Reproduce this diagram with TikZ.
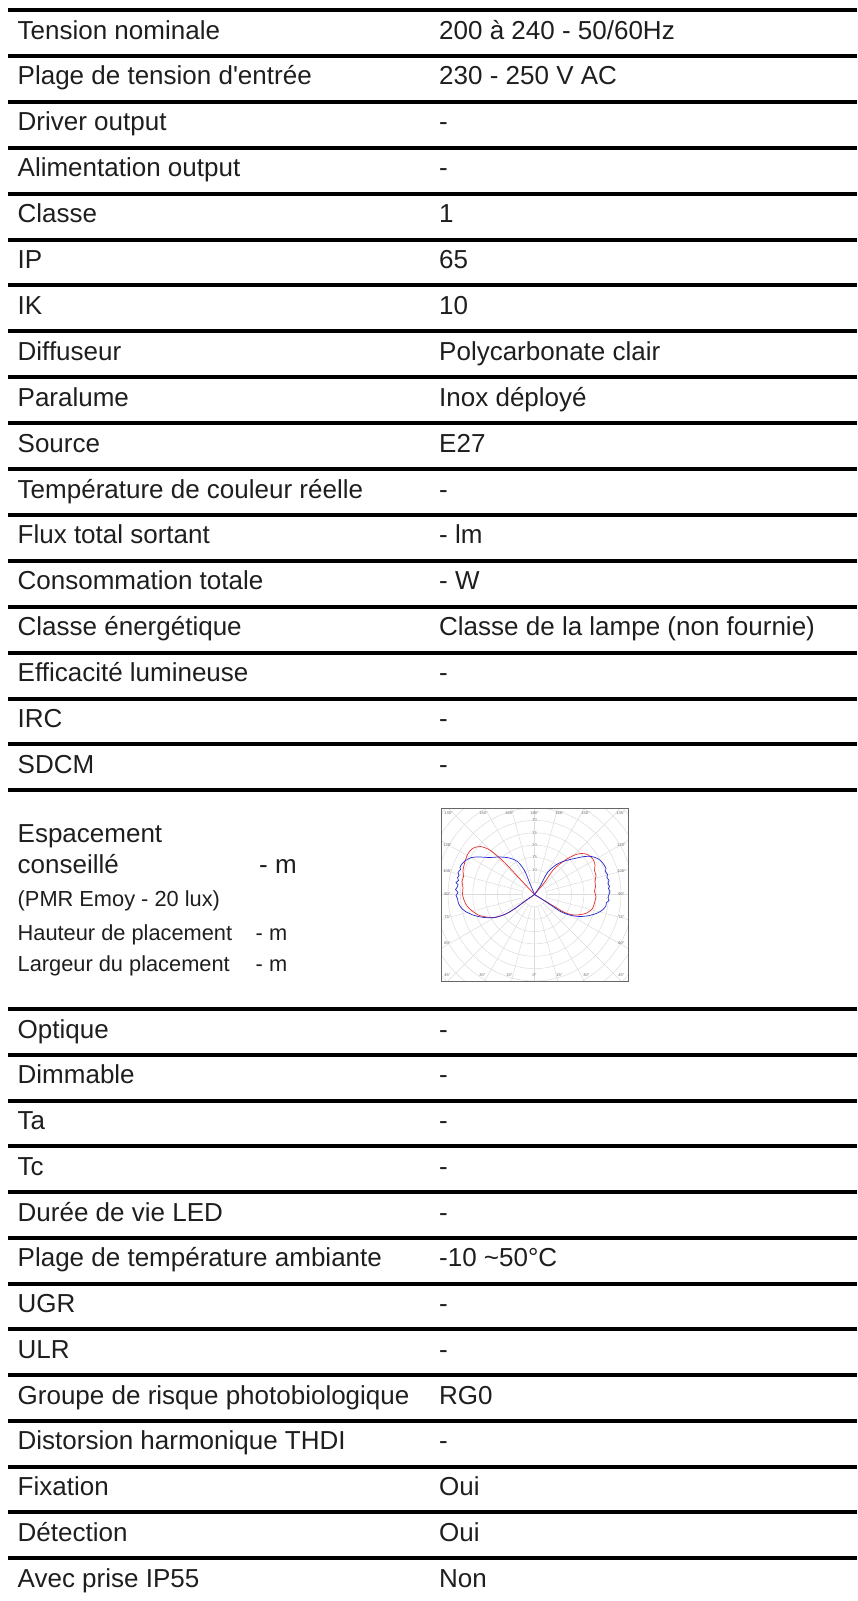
\documentclass[tikz,border=0pt]{standalone}
\usepackage{fontspec}
\setmainfont{Liberation Sans}
\definecolor{gridgray}{HTML}{DCDCDC}
\definecolor{curvered}{HTML}{E3302A}
\definecolor{curveblue}{HTML}{2828D2}
\definecolor{inkgray}{HTML}{1E1E1E}
\newcommand{\bigtxt}{\fontsize{26}{30}\selectfont}
\newcommand{\smalltxt}{\fontsize{21.8}{25}\selectfont}

\begin{document}
\begin{tikzpicture}[x=1pt, y=-1pt,
    rowlabel/.style={anchor=base west, inner sep=0pt, font=\bigtxt, text=inkgray},
    rowvalue/.style={anchor=base west, inner sep=0pt, font=\bigtxt, text=inkgray},
    sepline/.style={line width=4pt},
    tinylabel/.style={inner sep=0.3pt, font=\fontsize{4}{4.5}\selectfont, text=black!60}]
    \useasboundingbox (0,0) rectangle (857,1601);

    % Upper rows
    \foreach \lab/\val [count=\i from 0] in {
        {Tension nominale}/{200 à 240 - 50/60Hz},
        {Plage de tension d\textquotesingle entrée}/{230 - 250 V AC},
        {Driver output}/{-},
        {Alimentation output}/{-},
        {Classe}/{1},
        {IP}/{65},
        {IK}/{10},
        {Diffuseur}/{Polycarbonate clair},
        {Paralume}/{Inox déployé},
        {Source}/{E27},
        {Température de couleur réelle}/{-},
        {Flux total sortant}/{- lm},
        {Consommation totale}/{- W},
        {Classe énergétique}/{Classe de la lampe (non fournie)},
        {Efficacité lumineuse}/{-},
        {IRC}/{-},
        {SDCM}/{-}} {
        \pgfmathsetmacro{\yy}{10+45.9*\i}
        \draw[sepline] (8,\yy) -- (857,\yy);
        \node[rowlabel] (tl\i) at (17.5,\yy+29) {\lab};
        \node[rowvalue] (tv\i) at (439,\yy+29) {\val};
    }
    \draw[sepline] (8,790.3) -- (857,790.3);

    % Spacing row
    \node[rowlabel] (esp) at (17.5,842) {Espacement};
    \node[rowlabel] (cons) at (17.5,873) {conseillé};
    \node[rowvalue] (consv) at (259,873) {- m};
    \node[rowlabel, font=\smalltxt] (pmr) at (17.5,906.5) {(PMR Emoy - 20 lux)};
    \node[rowlabel, font=\smalltxt] (haut) at (17.5,940.5) {Hauteur de placement};
    \node[rowvalue, font=\smalltxt] (hautv) at (255.5,940.5) {- m};
    \node[rowlabel, font=\smalltxt] (larg) at (17.5,971) {Largeur du placement};
    \node[rowvalue, font=\smalltxt] (largv) at (255.5,971) {- m};

    % Polar diagram
    \begin{scope}[shift={(534.5,894.5)}, yscale=-1]
        \begin{scope}
            \clip (-93.5,-86.5) rectangle (93.5,86.5);
            \foreach \k in {1,...,10}
                \draw[gridgray, line width=0.5pt] (0,0) circle [radius=12.35*\k];
            \foreach \a in {0,15,...,345}
                \draw[gridgray, line width=0.5pt] (\a:12.35) -- (\a:140);
        \end{scope}
        \draw[black!60, line width=0.8pt] (-93.5,-86.5) rectangle (93.5,86.5);

        % angle labels
        \foreach \xx/\t [count=\n] in {-86/135,-51/150,-25/165,0/180,25/165,51/150,86/135} {
            \node[tinylabel] (pt\n) at (\xx,81.5) {\t°};
        }
        \foreach \yy/\t [count=\n] in {49/120,23/105,0/90,-23/75,-49/60} {
            \node[tinylabel] (pl\n) at (-87,\yy) {\t°};
            \node[tinylabel] (pr\n) at (87,\yy) {\t°};
        }
        \foreach \xx/\t [count=\n] in {-87/45,-52/30,-25/15,0/0,25/15,52/30,87/45} {
            \node[tinylabel] (pb\n) at (\xx,-80.5) {\t°};
        }
        \foreach \v [count=\n] in {10,15,20,25,30} {
            \node[tinylabel, fill=white] (pv\n) at (0,{12.35*\v/5}) {\v};
        }

        % red curve
        \draw[curvered, line width=0.7pt] plot[smooth] coordinates {
            (0,0) (-7,7.5) (-14,15) (-31,33) (-44,44) (-54,48) (-62,46) (-67,40)
            (-70,31) (-71.5,24) (-71,18) (-72.5,13) (-71.5,7) (-72,1) (-71,-4) (-68.5,-10)
            (-64,-15) (-55,-21) (-41,-23) (-30,-20) (-21,-15) (-10,-7) (0,0)};
        \draw[curvered, line width=0.7pt] plot[smooth] coordinates {
            (0,0) (10,12) (19,25) (30,34) (40,39.5) (47,41) (53,40) (58,36)
            (60.5,30) (60,24) (61.5,19) (60.5,13) (61,8) (60,3) (61.5,-2) (60,-8)
            (58,-14) (51,-19) (40,-20.5) (30,-18) (18,-11) (8,-5) (0,0)};

        % blue curve
        \draw[curveblue, line width=0.7pt] plot[smooth] coordinates {
            (0,0) (-5,12) (-10,24) (-17,33) (-25,36.5) (-35,37.5) (-45,37) (-55,37.5)
            (-63,37) (-69,34) (-73,30) (-74.5,27) (-74,25) (-76.5,22) (-75.5,19) (-77,17)
            (-76,14) (-78.5,12) (-76.5,10) (-77.5,7) (-79,5) (-76.5,2) (-78.5,-1) (-77,-4)
            (-76.5,-7) (-75.5,-10) (-73.5,-13) (-69,-17) (-60,-21) (-50,-23) (-40,-23)
            (-30,-20) (-21,-15) (-10,-7) (0,0)};
        \draw[curveblue, line width=0.7pt] plot[smooth] coordinates {
            (0,0) (6,9) (13,22) (22,30) (30,33.5) (40,36) (50,38) (57,38)
            (63,36) (67,33) (70,29) (71.5,26) (71,23) (73,20) (72.5,17) (74.5,14)
            (73.5,11) (75,8) (74,6) (75.5,3) (74.5,0) (73.5,-3) (74.5,-6) (72,-8)
            (71.5,-11) (68.5,-15) (63,-18.5) (55,-21) (45,-22) (35,-20.5) (26,-17)
            (17,-11) (8,-5) (0,0)};
    \end{scope}

    % Lower rows
    \foreach \lab/\val [count=\i from 0] in {
        {Optique}/{-},
        {Dimmable}/{-},
        {Ta}/{-},
        {Tc}/{-},
        {Durée de vie LED}/{-},
        {Plage de température ambiante}/{-10 \textasciitilde 50°C},
        {UGR}/{-},
        {ULR}/{-},
        {Groupe de risque photobiologique}/{RG0},
        {Distorsion harmonique THDI}/{-},
        {Fixation}/{Oui},
        {Détection}/{Oui},
        {Avec prise IP55}/{Non}} {
        \pgfmathsetmacro{\yy}{1009+45.75*\i}
        \draw[sepline] (8,\yy) -- (857,\yy);
        \node[rowlabel] (bl\i) at (17.5,\yy+29) {\lab};
        \node[rowvalue] (bv\i) at (439,\yy+29) {\val};
    }
\end{tikzpicture}
\end{document}
